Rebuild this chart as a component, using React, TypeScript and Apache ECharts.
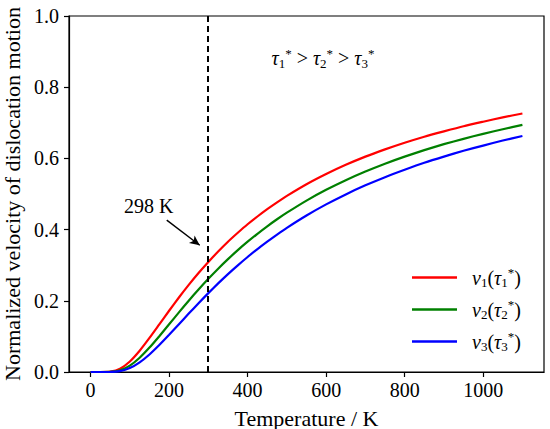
import React, { useEffect, useRef } from "react";
import * as echarts from "echarts";

const temps = [0, 25, 50, 75, 100, 125, 150, 175, 200, 225, 250, 275, 300, 325, 350, 375, 400, 425, 450, 475, 500, 550, 600, 650, 700, 750, 800, 850, 900, 950, 1000, 1050, 1100];
const v1 = [0, 0, 0.0009, 0.0092, 0.0296, 0.0598, 0.0957, 0.1338, 0.172, 0.2092, 0.2446, 0.278, 0.309, 0.3386, 0.366, 0.3911, 0.415, 0.4368, 0.4574, 0.4766, 0.4946, 0.5273, 0.556, 0.5819, 0.605, 0.6254, 0.644, 0.661, 0.676, 0.6904, 0.703, 0.7152, 0.726];
const v2 = [0, 0, 0.0003, 0.0047, 0.018, 0.0401, 0.0686, 0.1006, 0.134, 0.1675, 0.2003, 0.2318, 0.2619, 0.2903, 0.317, 0.3423, 0.366, 0.3883, 0.4093, 0.429, 0.4475, 0.4815, 0.5117, 0.5387, 0.563, 0.5851, 0.605, 0.6232, 0.64, 0.655, 0.669, 0.6819, 0.694];
const v3 = [0, 0, 0.0001, 0.0024, 0.0109, 0.0269, 0.0491, 0.0756, 0.1043, 0.1341, 0.164, 0.1933, 0.2216, 0.2489, 0.275, 0.2996, 0.323, 0.3453, 0.3662, 0.3861, 0.405, 0.4396, 0.4708, 0.4989, 0.5243, 0.5473, 0.568, 0.5876, 0.605, 0.6214, 0.636, 0.6502, 0.663];
const seriesNames = ["v1", "v2", "v3"];
const seriesColors = ["#ff0000", "#008000", "#0000ff"];
const xTicks = [0, 200, 400, 600, 800, 1000];
const yTicks = [0, 0.2, 0.4, 0.6, 0.8, 1.0];
const roomTemp = 298;
const arrowFrom = [194, 0.4265];
const arrowTo = [278, 0.356];
const roomLabelPos = [148, 0.466];
const orderLabelPos = [592, 0.882];

const FONT = "Liberation Serif";

const richStyles = {
  it: { fontFamily: FONT, fontStyle: "italic", fontSize: 20, color: "#000" },
  n: { fontFamily: FONT, fontSize: 20, color: "#000" },
  s: { fontFamily: FONT, fontSize: 13, color: "#000", padding: [10, 0, 0, 0] },
  p: { fontFamily: FONT, fontSize: 13, color: "#000", padding: [0, 0, 10, 0] },
};

export default function App() {
  const ref = useRef<HTMLDivElement>(null);
  useEffect(() => {
    document.body.style.margin = "0";
    const chart = echarts.init(ref.current!, null, { renderer: "svg" });
    const mk = (ys: number[]) => temps.map((t, i) => [t, ys[i]]);
    const all = [v1, v2, v3];
    const series: any[] = seriesNames.map((name, i) => ({
      name,
      type: "line",
      data: mk(all[i]),
      showSymbol: false,
      symbol: "none",
      smooth: 0.2,
      lineStyle: { color: seriesColors[i], width: 2.2 },
      itemStyle: { color: seriesColors[i] },
      z: 3,
    }));
    series.push({
      name: "annot",
      type: "line",
      data: [],
      silent: true,
      markLine: {
        silent: true,
        symbol: ["none", "none"],
        label: { show: false },
        lineStyle: { color: "#000", type: [6, 4], width: 2 },
        data: [{ xAxis: roomTemp }],
      },
    });
    series.push({
      name: "arrow",
      type: "line",
      data: [],
      silent: true,
      markLine: {
        silent: true,
        symbol: ["none", "arrow"],
        symbolSize: [7, 10],
        label: { show: false },
        lineStyle: { color: "#000", type: "solid", width: 1.4 },
        data: [[{ coord: arrowFrom }, { coord: arrowTo }]],
      },
      markPoint: {
        silent: true,
        symbol: "rect",
        symbolSize: 1,
        itemStyle: { color: "rgba(0,0,0,0)" },
        label: {
          show: true,
          position: "inside",
          color: "#000",
          fontFamily: FONT,
          fontSize: 20,
          rich: richStyles,
        },
        data: [
          { coord: roomLabelPos, label: { formatter: "298 K" } },
          {
            coord: orderLabelPos,
            label: {
              formatter:
                "{it|τ}{s|1}{p|*}{n| > }{it|τ}{s|2}{p|*}{n| > }{it|τ}{s|3}{p|*}",
            },
          },
        ],
      },
    });

    chart.setOption({
      animation: false,
      textStyle: { fontFamily: FONT },
      grid: {
        left: 69,
        right: 6,
        top: 16,
        bottom: 57,
        outerBoundsMode: "none",
        containLabel: false,
        show: true,
        borderColor: "#000",
        borderWidth: 1.2,
        backgroundColor: "#fff",
      },
      legend: {
        data: seriesNames.map((n) => ({ name: n, icon: "rect" })),
        orient: "vertical",
        left: 412,
        top: 266,
        padding: 0,
        itemWidth: 45,
        itemHeight: 2.5,
        itemGap: 9,
        formatter: (name: string) => {
          const i = seriesNames.indexOf(name) + 1;
          return `{it|v}{s|${i}}{n|(}{it|τ}{s|${i}}{p|*}{n|)}`;
        },
        textStyle: { rich: richStyles, fontSize: 20, fontFamily: FONT, padding: [0, 0, 0, 10] },
      },
      xAxis: {
        type: "value",
        min: -55,
        max: 1155,
        name: "Temperature / K",
        nameLocation: "middle",
        nameGap: 35,
        nameTextStyle: { fontFamily: FONT, fontSize: 22, color: "#000" },
        axisLine: { show: true, onZero: false, lineStyle: { color: "#000", width: 1.2 } },
        axisTick: { show: true, length: 5, customValues: xTicks, lineStyle: { color: "#000", width: 1.2 } },
        axisLabel: {
          customValues: xTicks,
          color: "#000",
          fontSize: 20,
          fontFamily: FONT,
          margin: 8,
          formatter: (v: number) => String(v),
        },
        splitLine: { show: false },
      },
      yAxis: {
        type: "value",
        min: 0,
        max: 1,
        interval: 0.2,
        name: "Normalized velocity of dislocation motion",
        nameLocation: "middle",
        nameGap: 41,
        nameTextStyle: { fontFamily: FONT, fontSize: 22, color: "#000" },
        axisLine: { show: true, onZero: false, lineStyle: { color: "#000", width: 1.2 } },
        axisTick: { show: true, length: 5, customValues: yTicks, lineStyle: { color: "#000", width: 1.2 } },
        axisLabel: {
          customValues: yTicks,
          color: "#000",
          fontSize: 20,
          fontFamily: FONT,
          margin: 10,
          formatter: (v: number) => v.toFixed(1),
        },
        splitLine: { show: false },
      },
      series,
    });
    return () => chart.dispose();
  }, []);
  return <div ref={ref} style={{ width: 550, height: 429 }} />;
}
